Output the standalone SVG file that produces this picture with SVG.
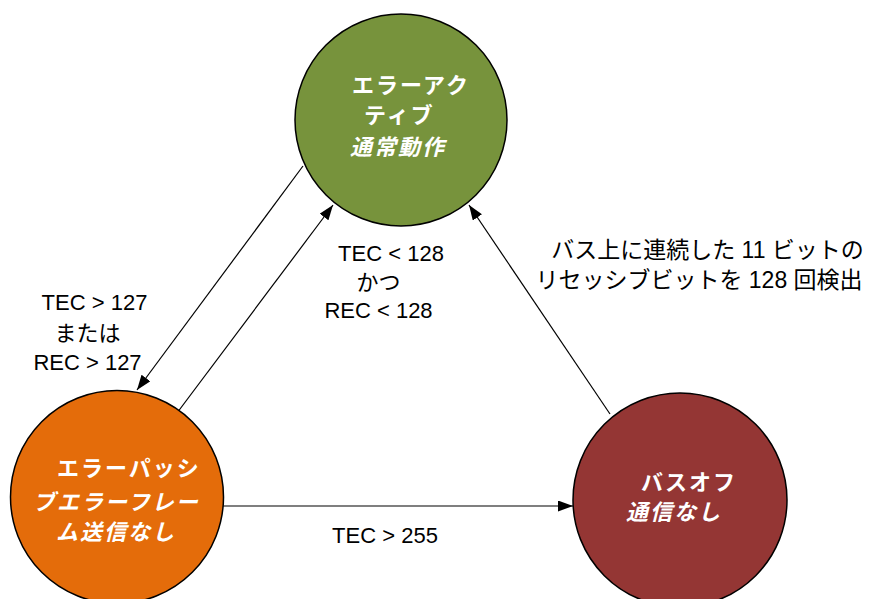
<svg xmlns="http://www.w3.org/2000/svg" width="872" height="599" viewBox="0 0 872 599">
<style>
.node{stroke:#000;stroke-width:1.5}
.nt{font-family:"Liberation Sans","Noto Sans CJK JP",sans-serif;font-size:22px;font-weight:bold;fill:#fff;letter-spacing:2px}
.it{font-style:italic}
.lb{font-family:"Liberation Sans","Noto Sans CJK JP",sans-serif;font-size:22px;fill:#000;text-anchor:middle}
.lj{font-size:23px}
.cn{stroke:#000;stroke-width:1.2;fill:none;marker-end:url(#ah)}
</style>
<defs>
<marker id="ah" markerUnits="userSpaceOnUse" markerWidth="16" markerHeight="12" refX="15" refY="5.5" orient="auto">
<path d="M0,0 L15,5.5 L0,11 z" fill="#000"/>
</marker>
</defs>
<rect width="872" height="599" fill="#fff"/>
<g id="connectors">
<line class="cn" x1="303" y1="166" x2="137" y2="390"/>
<line class="cn" x1="177" y1="413" x2="333" y2="205"/>
<line class="cn" x1="610" y1="414" x2="469" y2="205"/>
<line class="cn" x1="223" y1="506" x2="573" y2="506"/>
</g>
<g id="error-active">
<circle class="node" cx="401" cy="120" r="106" fill="#77933C"/>
<text class="nt" x="352" y="93">エラーアク</text>
<text class="nt" x="364" y="123">ティブ</text>
<text class="nt it" x="350" y="155">通常動作</text>
</g>
<g id="error-passive">
<circle class="node" cx="117" cy="497" r="106.5" fill="#E46C0A"/>
<text class="nt" x="57" y="476">エラーパッシ</text>
<text class="nt it" x="33" y="510">ブエラーフレー</text>
<text class="nt it" x="56" y="540">ム送信なし</text>
</g>
<g id="bus-off">
<circle class="node" cx="680" cy="500" r="107" fill="#943634"/>
<text class="nt" x="641" y="490">バスオフ</text>
<text class="nt it" x="626" y="520">通信なし</text>
</g>
<g id="labels">
<text class="lb" x="94.5" y="310">TEC &gt; 127</text>
<text class="lb" x="87.5" y="341">または</text>
<text class="lb" x="87.5" y="370">REC &gt; 127</text>
<text class="lb" x="391" y="261">TEC &lt; 128</text>
<text class="lb" x="378.5" y="290">かつ</text>
<text class="lb" x="378.5" y="318">REC &lt; 128</text>
<text class="lb lj" x="707.5" y="258">バス上に連続した 11 ビットの</text>
<text class="lb lj" x="699" y="288">リセッシブビットを 128 回検出</text>
<text class="lb" x="385" y="543">TEC &gt; 255</text>
</g>
</svg>
